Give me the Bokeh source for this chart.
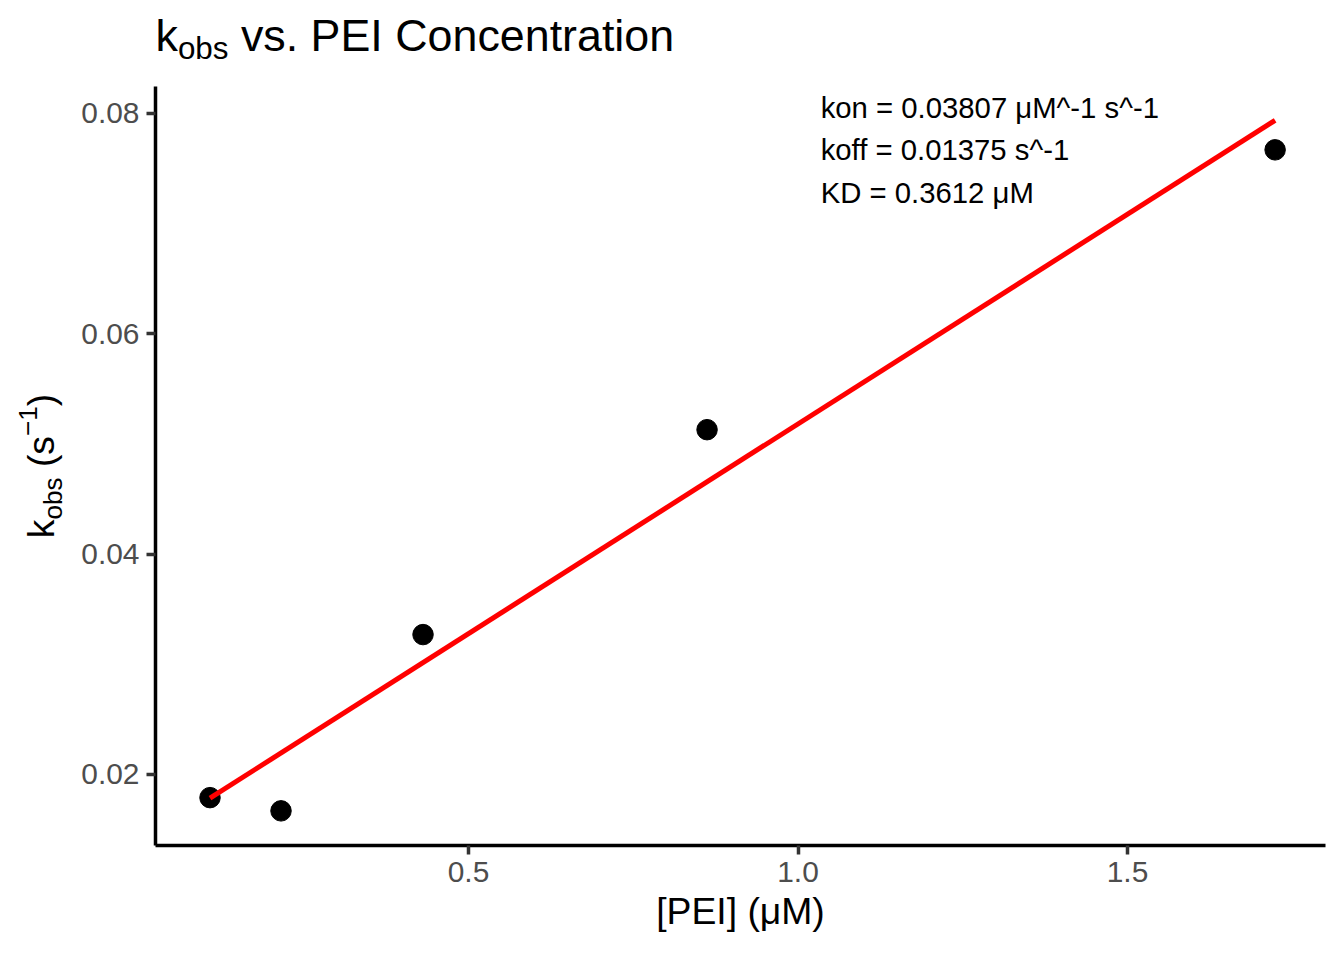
import numpy as np
from bokeh.plotting import figure
from bokeh.models import FixedTicker, PrintfTickFormatter, Range1d, ColumnDataSource
from bokeh.layouts import column, row
from bokeh.core.properties import value
from bokeh.embed import file_html
from bokeh.resources import INLINE

# ---------------- data ----------------
pei_conc = [0.10775, 0.2155, 0.431, 0.862, 1.724]      # [PEI] (uM)
k_obs = [0.0179, 0.0167, 0.0327, 0.0513, 0.0767]        # kobs (s^-1)
k_on = 0.03807
k_off = 0.01375
K_D = 0.3612
x_ticks = [0.5, 1.0, 1.5]
y_ticks = [0.02, 0.04, 0.06, 0.08]
annotation_lines = [
    "kon = 0.03807 \u03bcM^-1 s^-1",
    "koff = 0.01375 s^-1",
    "KD = 0.3612 \u03bcM",
]
title_parts = ["k", "obs", "vs. PEI Concentration"]
ylabel_parts = ["k", "obs", "(s", "\u22121", ")"]
xlabel = "[PEI] (\u03bcM)"

FONT = "Liberation Sans"
MID = 0.385   # distance from text "middle" to alphabetic baseline, in em

# ---------------- layout (pixels) ----------------
W, H = 1328, 944
TOP_H = 86          # title strip height (= frame top)
LEFT_W = 78         # y-label strip width
FL, FR, FB = 155, 1325, 845
X0, X1 = 0.02504, 1.80045
Y0, Y1 = 0.013555, 0.08245


def blank_fig(w, h, yspan=None, bottom=0):
    f = figure(width=w, height=h, x_range=Range1d(0, w),
               y_range=Range1d(0, yspan if yspan is not None else h),
               output_backend="svg", toolbar_location=None,
               x_axis_location=None, y_axis_location=None,
               min_border=0, min_border_left=0, min_border_right=0,
               min_border_top=0, min_border_bottom=bottom)
    f.xgrid.visible = False
    f.ygrid.visible = False
    f.outline_line_color = None
    f.background_fill_color = "white"
    f.border_fill_color = "white"
    return f


# ---------------- title strip ----------------
TS = 44.8
TSUB = 0.7 * TS
t_x, t_y, t_s = [], [], []
cx = 155.0
adv = [0.5 * TS, 1.612 * TSUB + 0.278 * TS, 0]
base = [52, 60, 52]
sizes = [TS, TSUB, TS]
for i in range(3):
    t_x.append(cx)
    t_y.append(TOP_H - (base[i] - MID * sizes[i]))
    t_s.append(f"{sizes[i]:.1f}px")
    cx += adv[i]
tfig = blank_fig(W, TOP_H)
tfig.text(x="x", y="y", text="t", text_font_size="s",
          source=ColumnDataSource(dict(x=t_x, y=t_y, t=title_parts, s=t_s)),
          text_font=value(FONT), text_color="black",
          text_align="left", text_baseline="middle")

# ---------------- y-label strip (frame aligned to the plot frame) ----------------
LH = FB - TOP_H
AS = 37.3
ASUB = 0.7 * AS
y_adv = [0.5 * AS, 1.612 * ASUB + 0.278 * AS, 0.833 * AS, 1.14 * ASUB, 0.333 * AS]
y_base = [55, 63, 55, 38, 55]
y_size = [AS, ASUB, AS, ASUB, AS]
total = sum(y_adv)
cy = (TOP_H + FB) / 2 + total / 2
l_x, l_y, l_s = [], [], []
for i in range(5):
    l_x.append(y_base[i] - MID * y_size[i])
    l_y.append(FB - cy)
    l_s.append(f"{y_size[i]:.1f}px")
    cy -= y_adv[i]
lfig = blank_fig(LEFT_W, H - TOP_H, yspan=LH, bottom=H - FB)
lfig.text(x="x", y="y", text="t", text_font_size="s",
          source=ColumnDataSource(dict(x=l_x, y=l_y, t=ylabel_parts, s=l_s)),
          text_font=value(FONT), text_color="black", angle=np.pi / 2,
          text_align="left", text_baseline="middle")

# ---------------- main plot ----------------
MW = W - LEFT_W
p = figure(width=MW, height=H - TOP_H, x_range=Range1d(X0, X1), y_range=Range1d(Y0, Y1),
           output_backend="svg", toolbar_location=None,
           min_border_left=FL - LEFT_W, min_border_right=W - FR,
           min_border_top=0, min_border_bottom=H - FB)
p.xgrid.visible = False
p.ygrid.visible = False
p.outline_line_color = None
p.background_fill_color = "white"
p.border_fill_color = "white"

p.xaxis.ticker = FixedTicker(ticks=x_ticks)
p.yaxis.ticker = FixedTicker(ticks=y_ticks)
p.xaxis.formatter = PrintfTickFormatter(format="%.1f")
p.yaxis.formatter = PrintfTickFormatter(format="%.2f")

for ax in (p.xaxis[0], p.yaxis[0]):
    ax.axis_line_width = 3.5
    ax.axis_line_color = "black"
    ax.major_tick_line_color = "#333333"
    ax.major_tick_line_width = 3.5
    ax.major_tick_out = 9
    ax.major_tick_in = 0
    ax.minor_tick_line_color = None
    ax.major_label_text_font = FONT
    ax.major_label_text_font_size = "29.9px"
    ax.major_label_text_color = "#4D4D4D"
p.xaxis.major_label_standoff = 7
p.yaxis.major_label_standoff = 7

p.xaxis.axis_label = xlabel
p.xaxis.axis_label_text_font = FONT
p.xaxis.axis_label_text_font_size = "37.3px"
p.xaxis.axis_label_text_font_style = "normal"
p.xaxis.axis_label_text_color = "black"
p.xaxis.axis_label_standoff = 5

p.scatter(pei_conc, k_obs, size=20.5, color="black")

fit_x = np.array([min(pei_conc), max(pei_conc)])
fit_y = k_on * fit_x + k_off
p.line(fit_x, fit_y, line_color="#FF0000", line_width=5)

ann_x = [0.6 * max(pei_conc)] * len(annotation_lines)
ann_y = [max(k_obs) * f for f in (1.05, 1.0, 0.95)]
p.text(x=ann_x, y=ann_y, text=annotation_lines, text_font=value(FONT),
       text_font_size=value("29.3px"), text_color="black",
       text_align="left", text_baseline="middle")

layout = column(tfig, row(lfig, p, spacing=0), spacing=0)
open("out.html", "w").write(file_html(layout, INLINE))
